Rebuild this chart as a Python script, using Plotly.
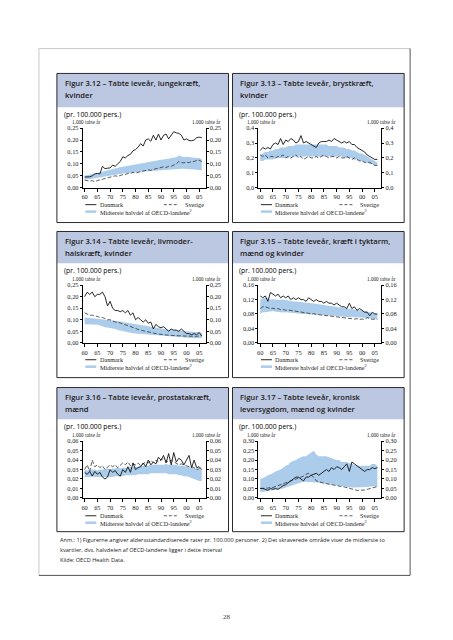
import plotly.graph_objects as go

W, H = 453, 640

# ---------------- data ----------------
years = list(range(1960, 2007))
tick_years = [1960, 1965, 1970, 1975, 1980, 1985, 1990, 1995, 2000, 2005]
tick_text = ["60", "65", "70", "75", "80", "85", "90", "95", "00", "05"]

titles = [
    ("Figur 3.12 – Tabte leveår, lungekræft,", "kvinder"),
    ("Figur 3.13 – Tabte leveår, brystkræft,", "kvinder"),
    ("Figur 3.14 – Tabte leveår, livmoder-", "halskræft, kvinder"),
    ("Figur 3.15 – Tabte leveår, kræft i tyktarm,", "mænd og kvinder"),
    ("Figur 3.16 – Tabte leveår, prostatakræft,", "mænd"),
    ("Figur 3.17 – Tabte leveår, kronisk", "leversygdom, mænd og kvinder"),
]
subtitle = "(pr. 100.000 pers.)"
unit_label = "1.000 tabte år"
legend_dk = "Danmark"
legend_se = "Sverige"
legend_band = "Midterste halvdel af OECD-landene<sup>2</sup>"

# 3.12 lungekræft, kvinder
lung_dk = [.045, .045, .046, .05, .058, .06, .058, .09, .08, .082, .083, .095, .09, .1, .11, .13, .125, .135, .14, .155,
           .16, .17, .185, .175, .2, .205, .195, .22, .2, .225, .2, .22, .225, .205, .22, .235, .23, .228, .22, .2,
           .205, .198, .197, .2, .21, .212, .21]
lung_se = [.032, .03, .028, .03, .025, .03, .033, .035, .04, .042, .045, .047, .05, .048, .052, .055, .055, .06, .06, .065,
           .062, .065, .068, .07, .072, .075, .073, .078, .08, .082, .085, .088, .085, .09, .09, .095, .1, .11, .105, .105,
           .108, .105, .11, .11, .115, .115, .11]
lung_lo = [.035, .035, .037, .038, .04, .042, .043, .045, .048, .05, .052, .053, .055, .057, .058, .06, .06, .062, .063, .065,
           .065, .066, .067, .068, .068, .07, .07, .071, .072, .073, .074, .075, .075, .076, .077, .078, .078, .079, .08, .08,
           .08, .079, .078, .077, .076, .075, .073]
lung_hi = [.05, .052, .055, .058, .06, .062, .065, .068, .07, .073, .075, .078, .08, .083, .086, .088, .09, .092, .095, .097,
           .1, .102, .104, .105, .107, .108, .11, .112, .113, .115, .117, .118, .12, .122, .123, .125, .128, .135, .13, .128,
           .13, .128, .127, .126, .125, .125, .12]

# 3.13 brystkræft, kvinder
breast_dk = [.25, .27, .26, .27, .26, .29, .3, .29, .33, .29, .32, .31, .33, .32, .3, .31, .35, .3, .31, .3,
             .29, .28, .27, .3, .31, .31, .31, .32, .31, .33, .32, .31, .3, .31, .3, .31, .29, .29, .27, .26,
             .25, .24, .22, .21, .2, .19, .19]
breast_se = [.22, .21, .22, .2, .21, .21, .2, .21, .21, .22, .2, .21, .2, .21, .22, .2, .21, .19, .2, .21,
             .2, .2, .21, .2, .21, .22, .21, .2, .21, .21, .2, .21, .2, .2, .21, .2, .19, .2, .19, .18,
             .18, .17, .17, .17, .16, .15, .15]
breast_lo = [.18, .18, .19, .19, .19, .19, .2, .2, .2, .2, .2, .2, .21, .21, .21, .21, .21, .21, .21, .21,
             .21, .21, .21, .21, .21, .21, .21, .21, .21, .21, .21, .21, .21, .2, .2, .2, .2, .19, .19, .18,
             .18, .17, .17, .16, .16, .15, .15]
breast_hi = [.22, .23, .24, .24, .25, .25, .26, .26, .27, .27, .27, .28, .28, .28, .29, .29, .29, .29, .29, .29,
             .29, .29, .29, .29, .29, .29, .29, .28, .28, .28, .28, .27, .27, .27, .26, .26, .25, .25, .24, .23,
             .23, .22, .21, .2, .19, .18, .17]

# 3.14 livmoderhalskræft, kvinder
cerv_dk = [.2, .22, .21, .22, .2, .21, .21, .22, .2, .16, .18, .15, .14, .14, .135, .14, .13, .14, .12, .13,
           .1, .11, .1, .09, .1, .085, .09, .06, .08, .07, .065, .07, .06, .05, .06, .055, .055, .05, .06, .05,
           .04, .04, .035, .04, .035, .045, .03]
cerv_se = [.13, .125, .12, .12, .115, .115, .11, .11, .105, .1, .1, .095, .09, .09, .085, .08, .078, .075, .07, .065,
           .06, .058, .055, .052, .05, .048, .045, .043, .04, .038, .036, .035, .034, .033, .032, .031, .03, .03, .03, .03,
           .029, .029, .028, .028, .028, .03, .03]
cerv_lo = [.08, .08, .08, .078, .078, .078, .075, .07, .068, .066, .065, .062, .06, .056, .053, .05, .048, .046, .043, .041,
           .04, .039, .038, .037, .036, .035, .034, .033, .032, .031, .03, .029, .028, .027, .026, .025, .025, .024, .023, .022,
           .022, .021, .02, .02, .02, .02, .02]
cerv_hi = [.11, .11, .108, .107, .106, .105, .104, .103, .102, .101, .1, .098, .096, .094, .092, .09, .088, .086, .084, .082,
           .08, .078, .076, .074, .072, .07, .068, .066, .064, .062, .06, .059, .058, .057, .056, .055, .054, .053, .052, .051,
           .05, .049, .048, .047, .046, .045, .045]

# 3.15 kræft i tyktarm, mænd og kvinder
colon_dk = [.13, .125, .13, .115, .14, .135, .13, .135, .125, .13, .125, .13, .12, .125, .12, .125, .12, .12, .115, .125,
            .12, .115, .12, .115, .115, .11, .115, .11, .11, .105, .11, .105, .1, .1, .095, .11, .095, .1, .09, .095,
            .09, .085, .085, .075, .085, .08, .08]
colon_se = [.095, .1, .1, .098, .095, .096, .094, .095, .092, .093, .09, .091, .09, .088, .087, .086, .085, .086, .083, .082,
            .08, .081, .079, .078, .077, .076, .077, .075, .074, .073, .072, .071, .07, .07, .069, .068, .067, .066, .067, .065,
            .066, .065, .07, .068, .065, .066, .065]
colon_lo = [.08, .085, .085, .086, .087, .088, .086, .085, .085, .084, .085, .084, .083, .082, .082, .081, .08, .08, .08, .079,
            .079, .078, .078, .077, .077, .076, .076, .075, .075, .075, .074, .074, .073, .073, .072, .072, .071, .071, .07, .07,
            .07, .069, .068, .067, .066, .065, .065]
colon_hi = [.12, .122, .125, .124, .12, .121, .12, .12, .119, .12, .118, .117, .116, .115, .115, .114, .113, .112, .112, .111,
            .11, .109, .108, .107, .106, .105, .104, .104, .103, .102, .101, .1, .099, .098, .097, .096, .095, .094, .093, .092,
            .09, .089, .087, .085, .083, .081, .08]

# 3.16 prostatakræft, mænd
prost_dk = [.027, .025, .028, .023, .028, .025, .027, .022, .02, .022, .03, .027, .029, .025, .023, .03, .027, .033, .027, .037,
            .03, .032, .033, .037, .033, .04, .035, .038, .036, .043, .04, .045, .037, .047, .035, .048, .038, .042, .04, .035,
            .04, .045, .032, .04, .032, .033, .03]
prost_se = [.03, .035, .028, .04, .033, .035, .032, .034, .03, .033, .035, .033, .035, .032, .035, .037, .035, .038, .034, .036,
            .035, .037, .034, .036, .038, .037, .04, .037, .04, .038, .04, .042, .039, .038, .04, .038, .037, .035, .036, .035,
            .034, .033, .033, .032, .03, .031, .03]
prost_lo = [.022, .022, .022, .023, .022, .022, .022, .022, .022, .022, .022, .022, .023, .023, .023, .023, .024, .024, .024, .024,
            .024, .025, .025, .025, .025, .025, .026, .026, .026, .026, .026, .026, .026, .025, .025, .025, .025, .024, .024, .023,
            .023, .022, .021, .02, .019, .018, .018]
prost_hi = [.03, .029, .03, .03, .03, .029, .03, .03, .03, .031, .03, .031, .031, .032, .031, .032, .032, .032, .033, .033,
            .033, .033, .034, .034, .034, .034, .035, .035, .035, .035, .035, .035, .036, .035, .035, .035, .035, .034, .034, .034,
            .033, .033, .032, .032, .031, .03, .03]

# 3.17 kronisk leversygdom, mænd og kvinder
liver_dk = [.05, .05, .045, .04, .05, .045, .05, .045, .055, .065, .07, .08, .09, .1, .11, .11, .1, .09, .11, .11,
            .12, .125, .13, .12, .13, .14, .15, .14, .16, .15, .165, .16, .15, .165, .18, .14, .19, .18, .17, .16,
            .15, .14, .15, .15, .16, .155, .16]
liver_se = [.05, .05, .05, .052, .055, .055, .06, .065, .07, .075, .08, .085, .09, .095, .1, .105, .11, .115, .125, .13,
            .12, .11, .09, .085, .08, .078, .075, .072, .07, .068, .065, .062, .06, .058, .055, .05, .045, .042, .04, .04,
            .04, .042, .045, .048, .05, .055, .06]
liver_lo = [.03, .032, .033, .035, .037, .04, .042, .045, .048, .05, .055, .06, .065, .07, .075, .08, .082, .085, .085, .085,
            .085, .083, .082, .08, .078, .075, .073, .072, .07, .068, .065, .063, .062, .06, .058, .056, .055, .055, .055, .055,
            .055, .057, .058, .06, .06, .06, .06]
liver_hi = [.1, .105, .11, .12, .125, .13, .14, .145, .15, .16, .17, .175, .19, .195, .2, .21, .215, .22, .22, .23,
            .24, .25, .23, .22, .22, .22, .22, .215, .21, .205, .2, .2, .19, .19, .19, .185, .18, .175, .17, .17,
            .17, .17, .17, .17, .18, .18, .17]

series = [
    (lung_dk, lung_se, lung_lo, lung_hi, 0.25, 0.05, ".2f"),
    (breast_dk, breast_se, breast_lo, breast_hi, 0.4, 0.1, ".1f"),
    (cerv_dk, cerv_se, cerv_lo, cerv_hi, 0.25, 0.05, ".2f"),
    (colon_dk, colon_se, colon_lo, colon_hi, 0.16, 0.04, ".2f"),
    (prost_dk, prost_se, prost_lo, prost_hi, 0.06, 0.01, ".2f"),
    (liver_dk, liver_se, liver_lo, liver_hi, 0.30, 0.05, ".2f"),
]

notes = [
    "Anm.: 1) Figurerne angiver aldersstandardiserede rater pr. 100.000 personer. 2) Det skraverede område viser de midterste to",
    "kvartiler, dvs. halvdelen af OECD-landene ligger i dette interval",
    "Kilde: OECD Health Data.",
]
page_no = "28"

# ---------------- layout geometry (pixels) ----------------
OX = -8


def X(x):
    return x + OX


def Y(y):
    return y - 10 + 0.005 * (y - 47)


COL_X = [56, 232]
BOX_W = 172
ROWS = [  # box top, box height, header h, plot top offset, plot bottom offset, legend offset
    dict(top=72, h=150, hh=34, pt=55, pb=115, lg=132),
    dict(top=231, h=147, hh=32, pt=54, pb=112, lg=129),
    dict(top=388, h=145, hh=32, pt=54, pb=111, lg=129),
]
PL, PR = 26, 149

HEAD_FILL = "#bcc7e1"
BAND_FILL = "#abcdeb"
SERIF = "Liberation Serif"
SANS = "Open Sans"


def fx(x):
    return X(x) / W


def fy(y):
    return 1 - Y(y) / H


fig = go.Figure()
shapes = []
ann = []
layout = {}

# outer frame (shadowed)
shapes.append(dict(type="line", xref="paper", yref="paper", x0=fx(38), x1=fx(410), y0=fy(47), y1=fy(47),
                   line=dict(color="#c8c8c8", width=1)))
shapes.append(dict(type="line", xref="paper", yref="paper", x0=fx(38), x1=fx(38), y0=fy(47), y1=fy(577),
                   line=dict(color="#c8c8c8", width=1)))
shapes.append(dict(type="line", xref="paper", yref="paper", x0=fx(410), x1=fx(410), y0=fy(47), y1=fy(577),
                   line=dict(color="#555555", width=1)))
shapes.append(dict(type="line", xref="paper", yref="paper", x0=fx(38), x1=fx(410), y0=fy(577), y1=fy(577),
                   line=dict(color="#555555", width=1)))

for i, (dk, se, lo, hi, ymax, dtick, fmt) in enumerate(series):
    r = ROWS[i // 2]
    bx = COL_X[i % 2]
    by = r["top"]
    n = i + 1
    xa = "x" if n == 1 else f"x{n}"
    ya = "y" if n == 1 else f"y{n}"
    ya2 = f"y{n + 6}"

    # box + header
    shapes.append(dict(type="rect", xref="paper", yref="paper", x0=fx(bx), x1=fx(bx + BOX_W),
                       y0=fy(by), y1=fy(by + r["hh"]), fillcolor=HEAD_FILL, line=dict(width=0), layer="below"))
    shapes.append(dict(type="rect", xref="paper", yref="paper", x0=fx(bx), x1=fx(bx + BOX_W),
                       y0=fy(by), y1=fy(by + r["h"]), line=dict(color="#2a2a2a", width=1)))
    t1, t2 = titles[i]
    ann.append(dict(x=fx(bx + 6), y=fy(by + 10), xref="paper", yref="paper", text=t1, showarrow=False,
                    xanchor="left", yanchor="middle",
                    font=dict(family=SANS, size=7.6, color="#1a1a1a", weight=600)))
    ann.append(dict(x=fx(bx + 6), y=fy(by + 22), xref="paper", yref="paper", text=t2, showarrow=False,
                    xanchor="left", yanchor="middle",
                    font=dict(family=SANS, size=7.6, color="#1a1a1a", weight=600)))
    ann.append(dict(x=fx(bx + 5), y=fy(by + r["hh"] + 7), xref="paper", yref="paper", text=subtitle,
                    showarrow=False, xanchor="left", yanchor="middle",
                    font=dict(family=SANS, size=6.8, color="#000000")))

    pl, pr = bx + PL, bx + PR
    pt, pb = by + r["pt"], by + r["pb"]

    ann.append(dict(x=fx(pl - 13), y=fy(pt - 6), xref="paper", yref="paper", text=unit_label, showarrow=False,
                    xanchor="left", yanchor="middle", font=dict(family=SERIF, size=5.2, color="#222")))
    ann.append(dict(x=fx(pr + 17), y=fy(pt - 6), xref="paper", yref="paper", text=unit_label, showarrow=False,
                    xanchor="right", yanchor="middle", font=dict(family=SERIF, size=5.2, color="#222")))

    # traces
    fig.add_trace(go.Scatter(x=years[:len(lo)], y=lo, mode="lines", line=dict(width=0, color=BAND_FILL),
                             xaxis=xa, yaxis=ya, showlegend=False, hoverinfo="skip"))
    fig.add_trace(go.Scatter(x=years[:len(hi)], y=hi, mode="lines", line=dict(width=0, color=BAND_FILL),
                             fill="tonexty", fillcolor=BAND_FILL, xaxis=xa, yaxis=ya, showlegend=False,
                             hoverinfo="skip"))
    fig.add_trace(go.Scatter(x=years[:len(se)], y=se, mode="lines",
                             line=dict(width=0.8, color="#333333", dash="4px,2px"),
                             xaxis=xa, yaxis=ya, showlegend=False))
    fig.add_trace(go.Scatter(x=years[:len(dk)], y=dk, mode="lines", line=dict(width=0.9, color="#111111"),
                             xaxis=xa, yaxis=ya, showlegend=False))
    fig.add_trace(go.Scatter(x=years[:len(dk)], y=dk, mode="lines", line=dict(width=0, color="rgba(0,0,0,0)"),
                             xaxis=xa, yaxis=ya2, showlegend=False, hoverinfo="skip"))

    xkey = "xaxis" if n == 1 else f"xaxis{n}"
    ykey = "yaxis" if n == 1 else f"yaxis{n}"
    layout[xkey] = dict(domain=[fx(pl), fx(pr)], range=[1959.3, 2007.5], tickvals=tick_years, ticktext=tick_text,
                        ticks="outside", ticklen=3, tickwidth=0.8, tickcolor="#000", showline=True,
                        linecolor="#000", linewidth=1, showgrid=False, zeroline=False, anchor=ya,
                        tickfont=dict(family=SERIF, size=6.4, color="#222"), fixedrange=True)
    yax = dict(range=[0, ymax], dtick=dtick, tick0=0, tickformat=fmt, ticks="outside", ticklen=2, tickwidth=0.8,
               tickcolor="#000", showline=True, linecolor="#000", linewidth=1, showgrid=False, zeroline=False,
               tickfont=dict(family=SERIF, size=6.4, color="#222"), fixedrange=True)
    layout[ykey] = dict(yax, domain=[fy(pb), fy(pt)], anchor=xa, side="left")
    layout[f"yaxis{n + 6}"] = dict(yax, overlaying=ya, anchor=xa, side="right")

    # legend
    w = pr - pl
    l1 = by + r["lg"]
    l2 = l1 + 7
    shapes.append(dict(type="line", xref="paper", yref="paper", x0=fx(pl + 0.02 * w), x1=fx(pl + 0.11 * w),
                       y0=fy(l1), y1=fy(l1), line=dict(color="#111", width=0.9)))
    ann.append(dict(x=fx(pl + 0.12 * w), y=fy(l1), xref="paper", yref="paper", text=legend_dk, showarrow=False,
                    xanchor="left", yanchor="middle", font=dict(family=SERIF, size=6.2, color="#222")))
    shapes.append(dict(type="line", xref="paper", yref="paper", x0=fx(pl + 0.66 * w), x1=fx(pl + 0.77 * w),
                       y0=fy(l1), y1=fy(l1), line=dict(color="#333", width=0.8, dash="3px,2px")))
    ann.append(dict(x=fx(pr), y=fy(l1), xref="paper", yref="paper", text=legend_se, showarrow=False,
                    xanchor="right", yanchor="middle", font=dict(family=SERIF, size=6.2, color="#222")))
    shapes.append(dict(type="line", xref="paper", yref="paper", x0=fx(pl + 0.02 * w), x1=fx(pl + 0.11 * w),
                       y0=fy(l2), y1=fy(l2), line=dict(color=BAND_FILL, width=2.5)))
    ann.append(dict(x=fx(pl + 0.12 * w), y=fy(l2), xref="paper", yref="paper", text=legend_band, showarrow=False,
                    xanchor="left", yanchor="middle", font=dict(family=SERIF, size=6.2, color="#222")))

# notes
for k, line in enumerate(notes):
    ann.append(dict(x=fx(57), y=fy(541 + 10 * k), xref="paper", yref="paper", text=line, showarrow=False,
                    xanchor="left", yanchor="middle", font=dict(family=SANS, size=5.6, color="#222")))
ann.append(dict(x=fx(226), y=fy(619), xref="paper", yref="paper", text=page_no, showarrow=False,
                xanchor="center", yanchor="middle", font=dict(family=SERIF, size=7, color="#444")))

fig.update_layout(width=W, height=H, margin=dict(l=0, r=0, t=0, b=0), paper_bgcolor="white",
                  plot_bgcolor="rgba(0,0,0,0)", separators=",.", shapes=shapes, annotations=ann,
                  showlegend=False, **layout)

fig.write_html("out.html", config=dict(displayModeBar=False))
